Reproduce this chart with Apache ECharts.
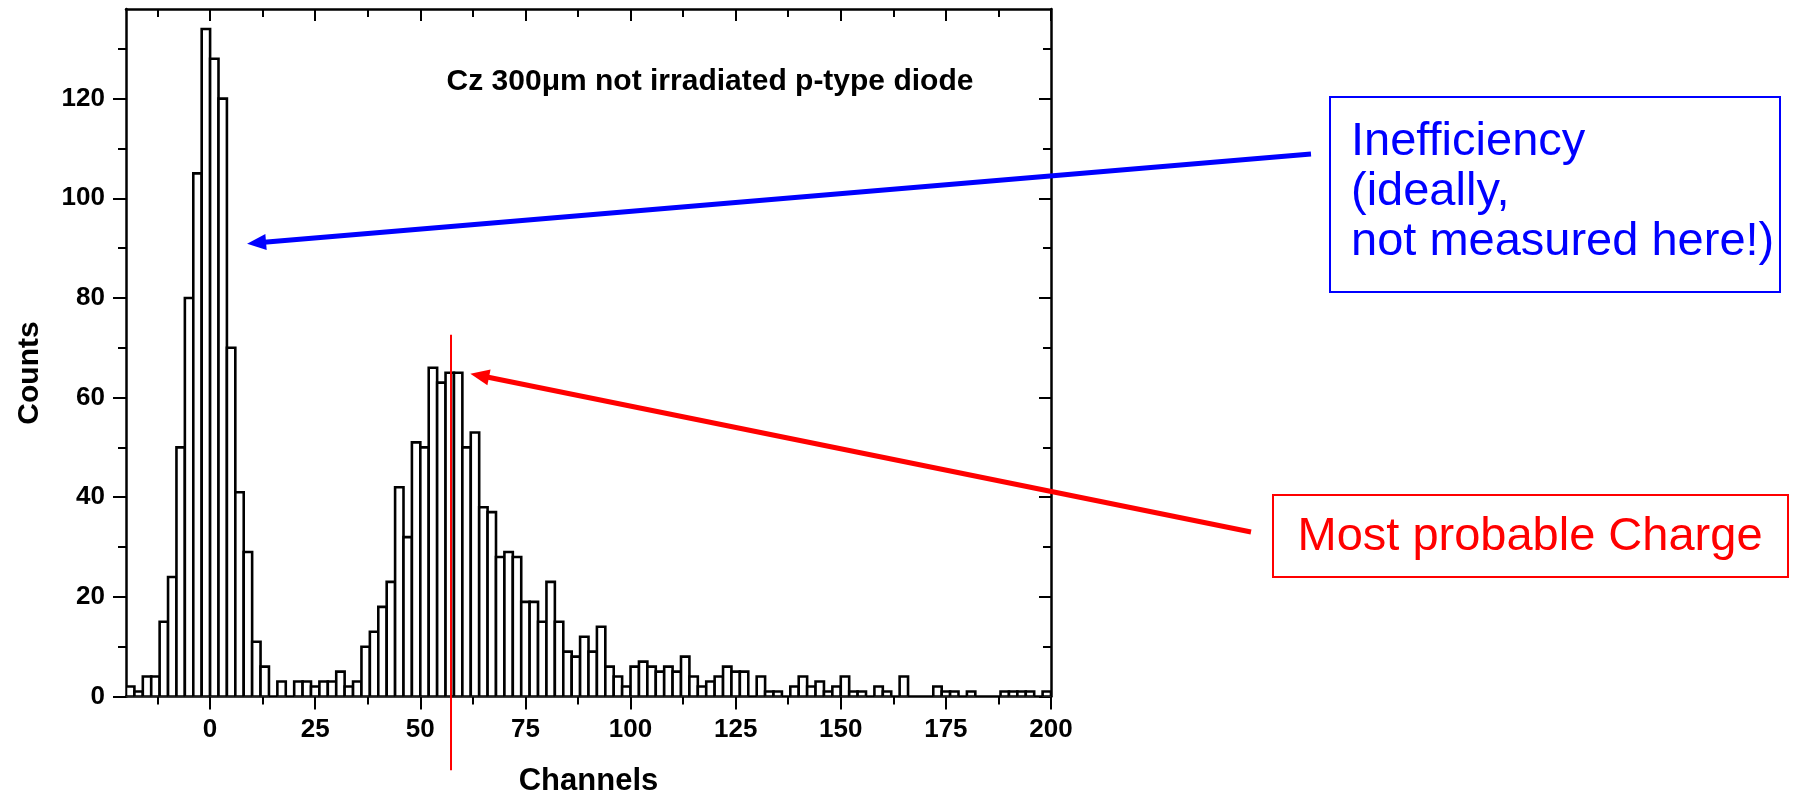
<!DOCTYPE html>
<html>
<head>
<meta charset="utf-8">
<script src="https://cdn.jsdelivr.net/npm/echarts@6/dist/echarts.min.js"></script>
<style>
html, body { margin: 0; padding: 0; background: #fff; }
#main { width: 1802px; height: 796px; }
</style>
</head>
<body>
<div id="main"></div>
<script>
// histogram bins: 2 channels wide, first bin starts at -20
var binStart = -20;
var binWidth = 2;
var counts = [
    2, 1, 4, 4, 15, 24, 50, 80, 105, 134,
    128, 120, 70, 41, 29, 11, 6, 0, 3, 0,
    3, 3, 2, 3, 3, 5, 2, 3, 10, 13,
    18, 23, 42, 32, 51, 50, 66, 63, 65, 65,
    50, 53, 38, 37, 28, 29, 28, 19, 19, 15,
    23, 15, 9, 8, 12, 9, 14, 6, 4, 2,
    6, 7, 6, 5, 6, 5, 8, 4, 2, 3,
    4, 6, 5, 5, 0, 4, 1, 1, 0, 2,
    4, 2, 3, 1, 2, 4, 1, 1, 0, 2,
    1, 0, 4, 0, 0, 0, 2, 1, 1, 0,
    1, 0, 0, 0, 1, 1, 1, 1, 0, 1
];

var xMajorTicks = [0, 25, 50, 75, 100, 125, 150, 175, 200];
var xMinorTicks = [-12.5, 12.5, 37.5, 62.5, 87.5, 112.5, 137.5, 162.5, 187.5];
var yMajorTicks = [0, 20, 40, 60, 80, 100, 120];
var yMinorTicks = [10, 30, 50, 70, 90, 110, 130];

var titleText = 'Cz 300\u03bcm not irradiated p-type diode';
var blueNote = 'Inefficiency\n(ideally,\nnot measured here!)';
var redNote = 'Most probable Charge';

// annotation anchors in data units
var mpvChannel = 57.3;
var mpvLineTop = 72.6;
var mpvLineBottom = -14.8;
var ineffTip = [8.8, 90.9];
var mpvTip = [61.9, 64.8];

var FONT = "'Liberation Sans', Arial, Helvetica, sans-serif";

var bins = counts.map(function (c, i) {
    var lo = binStart + i * binWidth;
    return [lo, lo + binWidth, c];
});

function majorX(pos) {
    return {
        type: 'value', gridIndex: 0, min: -20, max: 200, position: pos,
        axisLine: { show: true, onZero: false, lineStyle: { color: '#000', width: 2.5 } },
        axisTick: { show: true, inside: pos === 'top', length: pos === 'top' ? 12 : 13,
                    customValues: xMajorTicks, lineStyle: { color: '#000', width: 2 } },
        axisLabel: { show: pos === 'bottom', customValues: xMajorTicks, color: '#000',
                     fontSize: 26, fontWeight: 'bold', fontFamily: FONT, margin: 20 },
        splitLine: { show: false }
    };
}
function minorX(pos) {
    return {
        type: 'value', gridIndex: 1, min: -20, max: 200, position: pos,
        axisLine: { show: false, onZero: false },
        axisTick: { show: true, inside: pos === 'top', length: 8,
                    customValues: xMinorTicks, lineStyle: { color: '#000', width: 2 } },
        axisLabel: { show: false },
        splitLine: { show: false }
    };
}
function majorY(pos) {
    return {
        type: 'value', gridIndex: 0, min: 0, max: 138, position: pos,
        axisLine: { show: true, onZero: false, lineStyle: { color: '#000', width: 2.5 } },
        axisTick: { show: true, inside: pos === 'right', length: pos === 'right' ? 12 : 13,
                    customValues: yMajorTicks, lineStyle: { color: '#000', width: 2 } },
        axisLabel: { show: pos === 'left', customValues: yMajorTicks, color: '#000',
                     fontSize: 26, fontWeight: 'bold', fontFamily: FONT, margin: 21 },
        splitLine: { show: false }
    };
}
function minorY(pos) {
    return {
        type: 'value', gridIndex: 1, min: 0, max: 138, position: pos,
        axisLine: { show: false, onZero: false },
        axisTick: { show: true, inside: pos === 'right', length: 8,
                    customValues: yMinorTicks, lineStyle: { color: '#000', width: 2 } },
        axisLabel: { show: false },
        splitLine: { show: false }
    };
}

var xBottom = majorX('bottom');
xBottom.name = 'Channels';
xBottom.nameLocation = 'middle';
xBottom.nameGap = 69;
xBottom.nameTextStyle = { color: '#000', fontSize: 31, fontWeight: 'bold', fontFamily: FONT };

var gridBox = { left: 126, right: 751, top: 9, bottom: 99.5, containLabel: false, outerBoundsMode: 'none' };

var myChart = echarts.init(document.getElementById('main'));

var option = {
    backgroundColor: '#fff',
    animation: false,
    grid: [gridBox, Object.assign({}, gridBox)],
    xAxis: [xBottom, majorX('top'), minorX('bottom'), minorX('top')],
    yAxis: [majorY('left'), majorY('right'), minorY('left'), minorY('right')],
    series: [
        {
            type: 'custom',
            xAxisIndex: 0,
            yAxisIndex: 0,
            clip: true,
            data: bins,
            renderItem: function (params, api) {
                var c = api.value(2);
                if (!c) return;
                var p0 = api.coord([api.value(0), c]);
                var p1 = api.coord([api.value(1), 0]);
                return {
                    type: 'rect',
                    shape: { x: p0[0], y: p0[1], width: p1[0] - p0[0], height: p1[1] - p0[1] },
                    style: { fill: '#fff', stroke: '#000', lineWidth: 2.6 }
                };
            }
        }
    ]
};

myChart.setOption(option);

function toPx(p) {
    return myChart.convertToPixel({ xAxisIndex: 0, yAxisIndex: 0 }, p);
}

function arrow(from, to, color, width, headLen, headHalf) {
    var dx = to[0] - from[0], dy = to[1] - from[1];
    var len = Math.sqrt(dx * dx + dy * dy);
    var ux = dx / len, uy = dy / len;
    var bx = to[0] - ux * headLen, by = to[1] - uy * headLen;
    return [
        { type: 'line', z: 20, shape: { x1: from[0], y1: from[1], x2: bx + ux * 2, y2: by + uy * 2 },
          style: { stroke: color, lineWidth: width } },
        { type: 'polygon', z: 20,
          shape: { points: [[to[0], to[1]], [bx - uy * headHalf, by + ux * headHalf], [bx + uy * headHalf, by - ux * headHalf]] },
          style: { fill: color } }
    ];
}

var mpvTop = toPx([mpvChannel, mpvLineTop]);
var mpvBottom = toPx([mpvChannel, mpvLineBottom]);

var graphics = [
    {
        // y axis title, sits a bit below the axis middle like the original
        type: 'text', z: 20, x: 30, y: 373, rotation: Math.PI / 2,
        style: { text: 'Counts', fill: '#000', font: 'bold 30px ' + FONT, align: 'center', verticalAlign: 'middle' }
    },
    {
        type: 'text', z: 20, x: 710, y: 82,
        style: { text: titleText, fill: '#000', font: 'bold 30px ' + FONT, align: 'center', verticalAlign: 'middle' }
    },
    {
        type: 'line', z: 21,
        shape: { x1: mpvTop[0], y1: mpvTop[1], x2: mpvBottom[0], y2: mpvBottom[1] },
        style: { stroke: '#ff0000', lineWidth: 2 }
    },
    {
        type: 'rect', z: 20,
        shape: { x: 1330, y: 97, width: 450, height: 195 },
        style: { fill: '#fff', stroke: '#0000ff', lineWidth: 2 }
    },
    {
        type: 'text', z: 21, x: 1351, y: 117,
        style: { text: blueNote, fill: '#0000ff', font: '47px ' + FONT, lineHeight: 50, align: 'left', verticalAlign: 'top' }
    },
    {
        type: 'rect', z: 20,
        shape: { x: 1273, y: 495, width: 515, height: 82 },
        style: { fill: '#fff', stroke: '#ff0000', lineWidth: 2 }
    },
    {
        type: 'text', z: 21, x: 1530, y: 537,
        style: { text: redNote, fill: '#ff0000', font: '47px ' + FONT, align: 'center', verticalAlign: 'middle' }
    }
];

graphics = graphics
    .concat(arrow([1311, 154], toPx(ineffTip), '#0000ff', 5, 19, 8))
    .concat(arrow([1251, 532], toPx(mpvTip), '#ff0000', 5, 19, 8));

myChart.setOption({ graphic: graphics });
</script>
</body>
</html>
